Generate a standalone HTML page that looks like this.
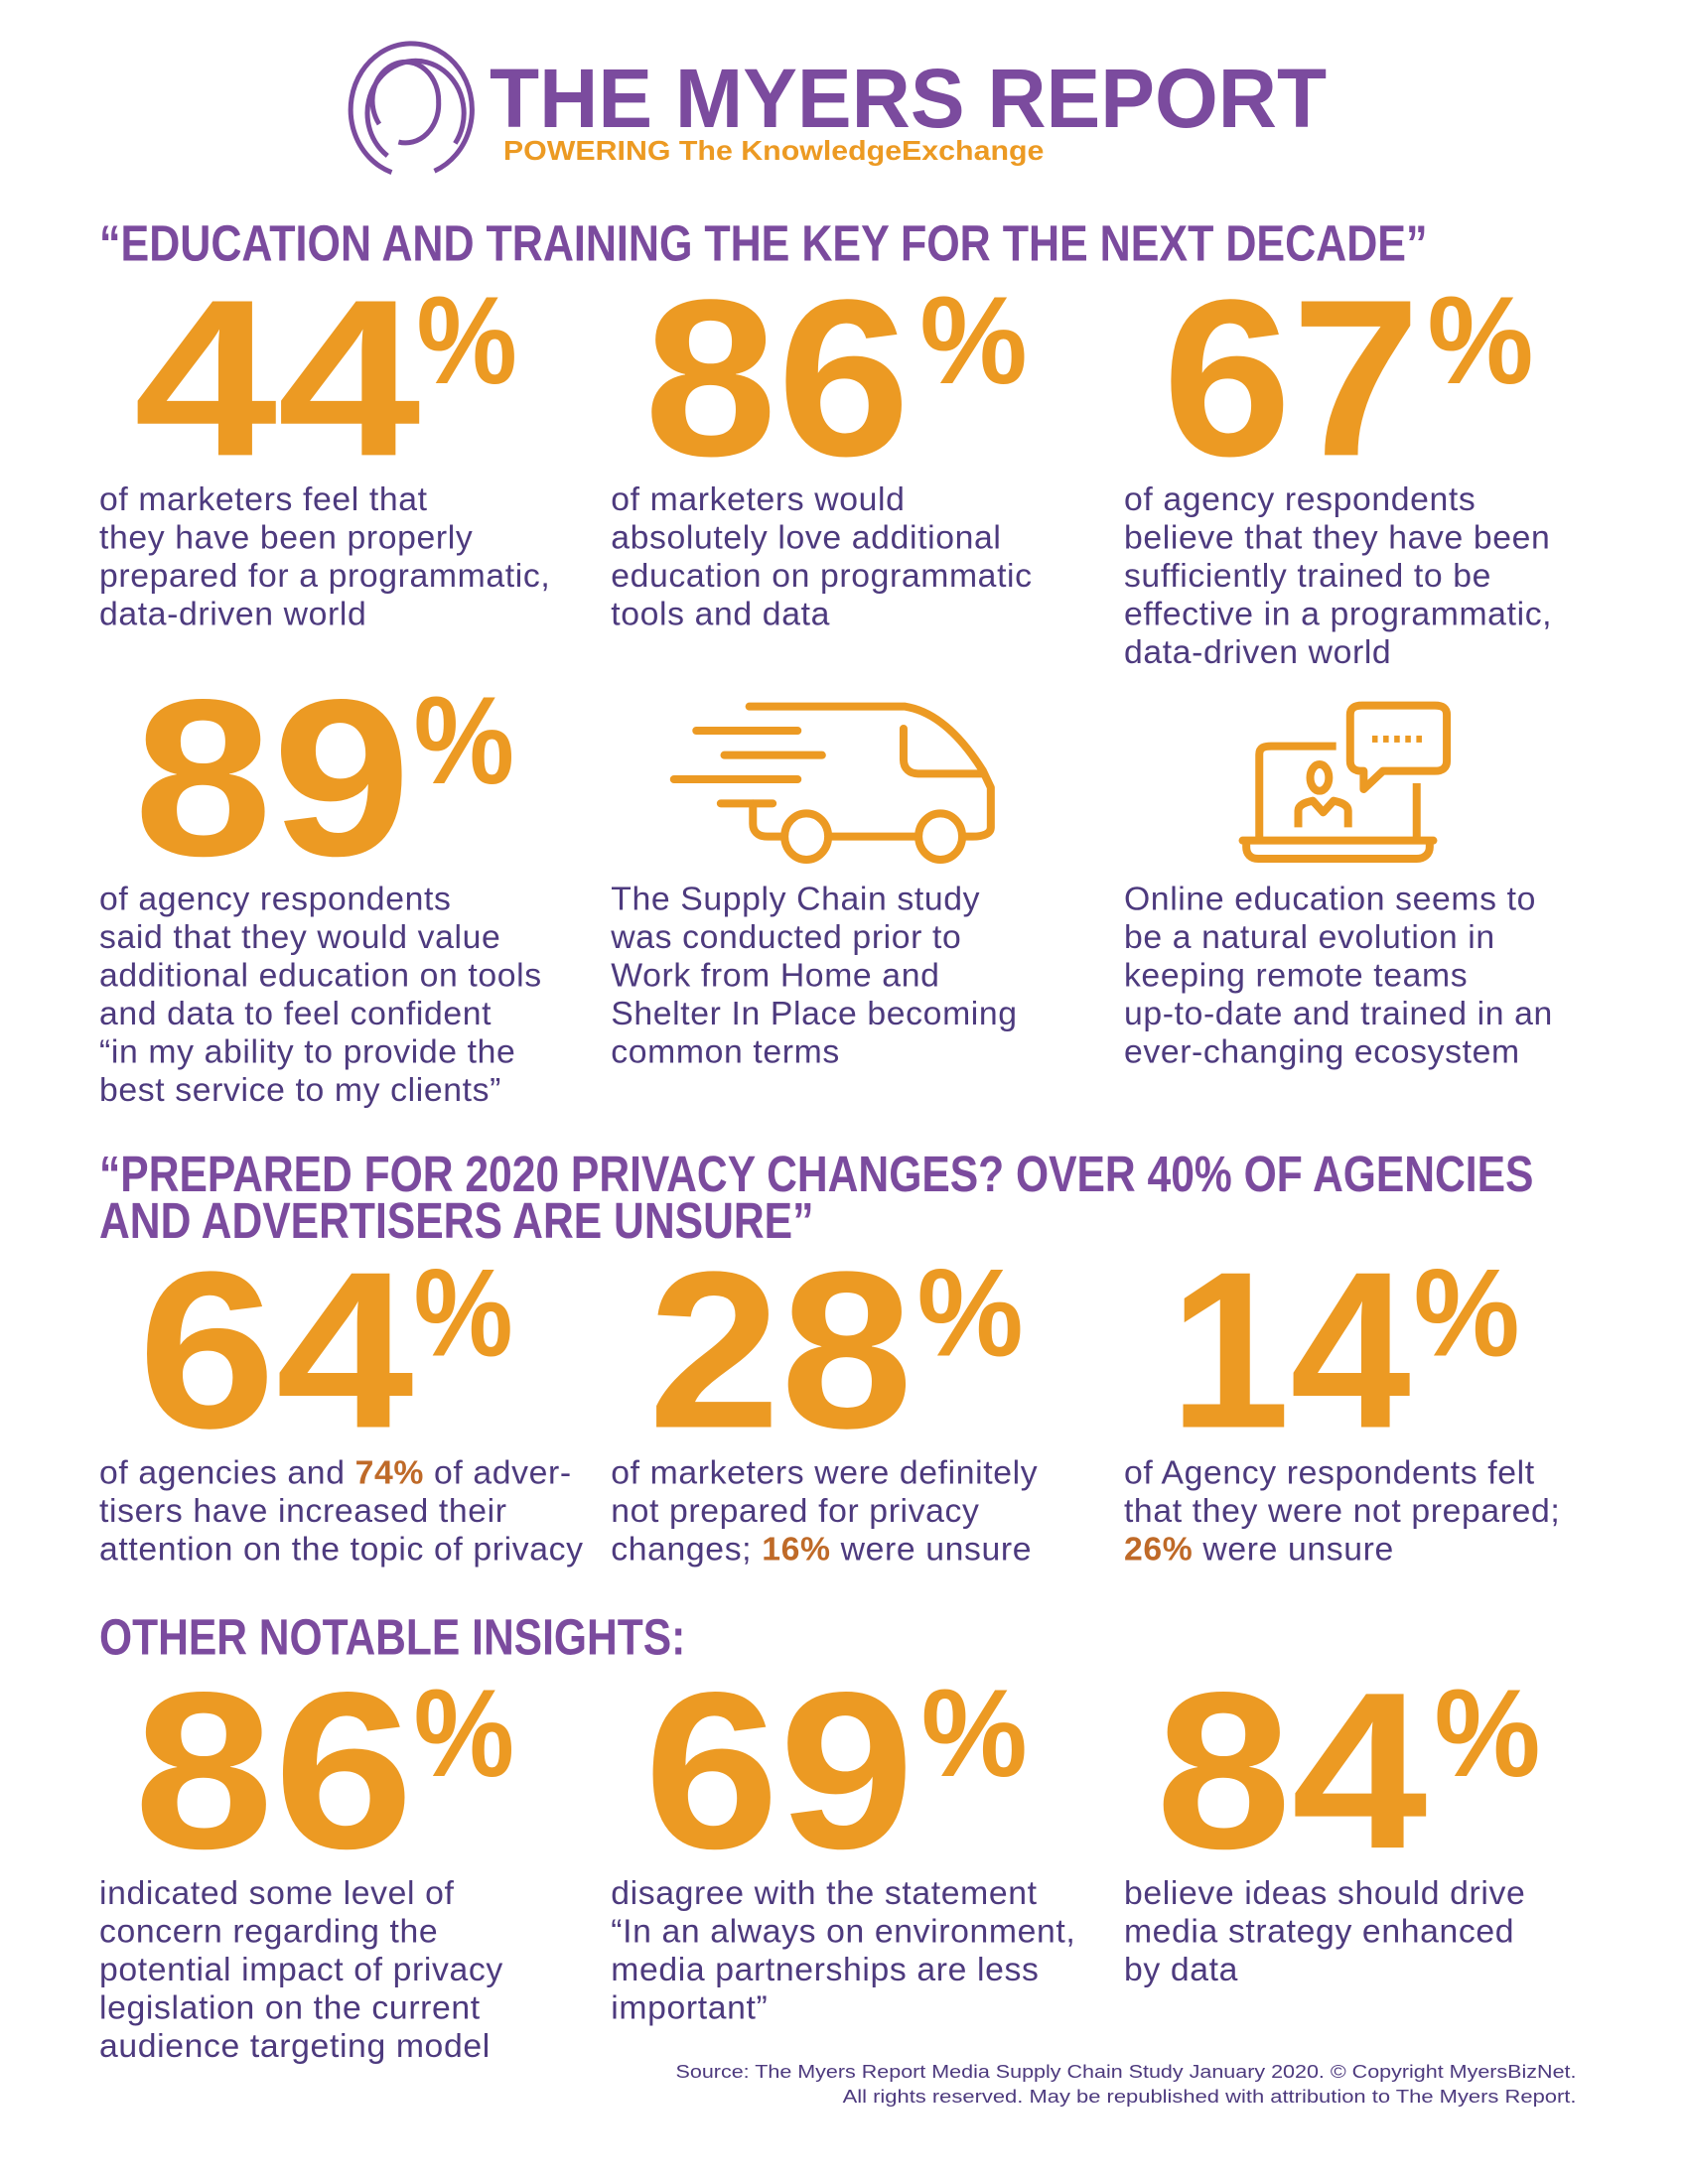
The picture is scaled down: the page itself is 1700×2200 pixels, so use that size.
<!DOCTYPE html>
<html><head><meta charset="utf-8"><style>
html,body{margin:0;padding:0;background:#fff;}
svg{display:block;}
.b{font-family:"Liberation Sans",sans-serif;font-size:24.3px;letter-spacing:0.45px;fill:#4D3A7E;}
.n{font-family:"Liberation Sans",sans-serif;font-weight:bold;fill:#EC9A23;}
.h{font-family:"Liberation Sans",sans-serif;font-weight:900;fill:#7B4B9E;font-size:37px;}
.hl{font-weight:bold;fill:#BF6A28;}
</style></head><body>
<svg width="1700" height="2200" viewBox="0 0 1224 1584" xmlns="http://www.w3.org/2000/svg">
<rect width="1224" height="1584" fill="#fff"/>
<g fill="none" stroke="#7B4B9E" stroke-width="3.6" stroke-linecap="butt">
<path d="M284,125 A44,48 0 1 1 315,124"/>
<path d="M281,113 A35,38 0 1 1 330,104"/>
<path d="M289,103 A24,28 0 0 0 318,74 A24,28 0 1 0 275,90"/>
</g>
<text x="355" y="92" font-family="Liberation Sans,sans-serif" font-weight="bold" font-size="61" fill="#7B4B9E" textLength="607" lengthAdjust="spacingAndGlyphs">THE MYERS REPORT</text>
<text x="365" y="116" font-family="Liberation Sans,sans-serif" font-weight="bold" font-size="20" fill="#EC9A23" textLength="392" lengthAdjust="spacingAndGlyphs">POWERING The KnowledgeExchange</text>
<text class="h" x="72" y="189" textLength="963" lengthAdjust="spacingAndGlyphs">“EDUCATION AND TRAINING THE KEY FOR THE NEXT DECADE”</text>

<text class="n" x="97" y="330" font-size="162" textLength="208" lengthAdjust="spacingAndGlyphs">44</text>
<text class="n" x="302" y="278" font-size="90" textLength="73" lengthAdjust="spacingAndGlyphs">%</text>
<text class="n" x="467" y="330" font-size="162" textLength="193" lengthAdjust="spacingAndGlyphs">86</text>
<text class="n" x="667" y="278" font-size="90" textLength="78" lengthAdjust="spacingAndGlyphs">%</text>
<text class="n" x="843" y="330" font-size="162" textLength="187" lengthAdjust="spacingAndGlyphs">67</text>
<text class="n" x="1035" y="278" font-size="90" textLength="77" lengthAdjust="spacingAndGlyphs">%</text>

<text class="b" y="370"><tspan x="72">of marketers feel that</tspan><tspan x="72" dy="27.7">they have been properly</tspan><tspan x="72" dy="27.7">prepared for a programmatic,</tspan><tspan x="72" dy="27.7">data-driven world</tspan></text>
<text class="b" y="370"><tspan x="443">of marketers would</tspan><tspan x="443" dy="27.7">absolutely love additional</tspan><tspan x="443" dy="27.7">education on programmatic</tspan><tspan x="443" dy="27.7">tools  and data</tspan></text>
<text class="b" y="370"><tspan x="815">of agency respondents</tspan><tspan x="815" dy="27.7">believe that they have been</tspan><tspan x="815" dy="27.7">sufficiently trained to be</tspan><tspan x="815" dy="27.7">effective in a programmatic,</tspan><tspan x="815" dy="27.7">data-driven world</tspan></text>

<text class="n" x="97" y="620" font-size="162" textLength="201" lengthAdjust="spacingAndGlyphs">89</text>
<text class="n" x="300" y="568" font-size="90" textLength="73" lengthAdjust="spacingAndGlyphs">%</text>

<g transform="translate(468,489.6) scale(0.3766,0.24)" fill="none" stroke="#EC9A23" stroke-width="8" stroke-linecap="round" stroke-linejoin="round">
<path vector-effect="non-scaling-stroke" d="M200,95 H500 C560,110 610,190 650,290 L665,340 V460 C665,480 650,488 630,488 H612"/>
<path vector-effect="non-scaling-stroke" d="M355,488 H522"/>
<path vector-effect="non-scaling-stroke" d="M262,488 H235 C215,488 207,470 207,450 V388"/>
<path vector-effect="non-scaling-stroke" d="M145,388 H245"/>
<path vector-effect="non-scaling-stroke" d="M497,162 V255 C497,285 510,298 525,298 H650"/>
<ellipse vector-effect="non-scaling-stroke" cx="310" cy="488" rx="42" ry="70"/>
<ellipse vector-effect="non-scaling-stroke" cx="568" cy="488" rx="42" ry="70"/>
<path vector-effect="non-scaling-stroke" d="M98,168 H293 M152,242 H340 M55,315 H293"/>
<path vector-effect="non-scaling-stroke" stroke-linecap="butt" d="M1182,495 V240 C1182,220 1190,215 1205,215 H1330"/>
<path vector-effect="non-scaling-stroke" stroke-linecap="butt" d="M1485,327 V495"/>
<path vector-effect="non-scaling-stroke" d="M1150,500 H1517 M1157,500 V520 C1157,540 1165,555 1180,555 H1485 C1500,555 1510,540 1510,520 V500"/>
<ellipse vector-effect="non-scaling-stroke" cx="1298" cy="310" rx="18" ry="40"/>
<path vector-effect="non-scaling-stroke" stroke-linecap="butt" d="M1257,460 V410 C1257,392 1270,385 1285,380 L1305,415 L1325,380 C1340,385 1353,392 1353,410 V460"/>
<path vector-effect="non-scaling-stroke" d="M1357,120 C1357,100 1365,92 1380,92 H1520 C1535,92 1543,100 1543,120 V260 C1543,280 1535,290 1520,290 H1420 L1383,345 V290 H1380 C1365,290 1357,280 1357,260 Z"/>
</g>
<g fill="#EC9A23"><rect x="995" y="533.5" width="4" height="5"/><rect x="1003" y="533.5" width="4" height="5"/><rect x="1011" y="533.5" width="4" height="5"/><rect x="1019" y="533.5" width="4" height="5"/><rect x="1027" y="533.5" width="4" height="5"/></g>

<text class="b" y="660"><tspan x="72">of agency respondents</tspan><tspan x="72" dy="27.7">said that they would value</tspan><tspan x="72" dy="27.7">additional education on tools</tspan><tspan x="72" dy="27.7">and data to feel confident</tspan><tspan x="72" dy="27.7">“in my ability to provide the</tspan><tspan x="72" dy="27.7">best service to my clients”</tspan></text>
<text class="b" y="660"><tspan x="443">The Supply Chain study</tspan><tspan x="443" dy="27.7">was conducted prior to</tspan><tspan x="443" dy="27.7">Work from Home and</tspan><tspan x="443" dy="27.7">Shelter In Place becoming</tspan><tspan x="443" dy="27.7">common terms</tspan></text>
<text class="b" y="660"><tspan x="815">Online education seems to</tspan><tspan x="815" dy="27.7">be a natural evolution in</tspan><tspan x="815" dy="27.7">keeping remote teams</tspan><tspan x="815" dy="27.7">up-to-date and trained in an</tspan><tspan x="815" dy="27.7">ever-changing ecosystem</tspan></text>

<text class="h" x="72" y="864" textLength="1040" lengthAdjust="spacingAndGlyphs">“PREPARED FOR 2020 PRIVACY CHANGES? OVER 40% OF AGENCIES</text>
<text class="h" x="72" y="898" textLength="518" lengthAdjust="spacingAndGlyphs">AND ADVERTISERS ARE UNSURE”</text>

<text class="n" x="100" y="1035" font-size="162" textLength="200" lengthAdjust="spacingAndGlyphs">64</text>
<text class="n" x="300" y="983" font-size="90" textLength="72" lengthAdjust="spacingAndGlyphs">%</text>
<text class="n" x="470" y="1035" font-size="162" textLength="192" lengthAdjust="spacingAndGlyphs">28</text>
<text class="n" x="665" y="983" font-size="90" textLength="77" lengthAdjust="spacingAndGlyphs">%</text>
<text class="n" x="848" y="1035" font-size="162" textLength="175" lengthAdjust="spacingAndGlyphs">14</text>
<text class="n" x="1025" y="983" font-size="90" textLength="77" lengthAdjust="spacingAndGlyphs">%</text>

<text class="b" y="1076"><tspan x="72">of agencies and <tspan class="hl">74%</tspan> of adver-</tspan><tspan x="72" dy="27.7">tisers have increased their</tspan><tspan x="72" dy="27.7">attention on the topic of privacy</tspan></text>
<text class="b" y="1076"><tspan x="443">of marketers were definitely</tspan><tspan x="443" dy="27.7">not prepared for privacy</tspan><tspan x="443" dy="27.7">changes; <tspan class="hl">16%</tspan> were unsure</tspan></text>
<text class="b" y="1076"><tspan x="815">of Agency respondents felt</tspan><tspan x="815" dy="27.7">that they were not prepared;</tspan><tspan x="815" dy="27.7"><tspan class="hl">26%</tspan> were unsure</tspan></text>

<text class="h" x="72" y="1200" textLength="425" lengthAdjust="spacingAndGlyphs">OTHER NOTABLE INSIGHTS:</text>

<text class="n" x="97" y="1340" font-size="162" textLength="203" lengthAdjust="spacingAndGlyphs">86</text>
<text class="n" x="300" y="1288" font-size="90" textLength="73" lengthAdjust="spacingAndGlyphs">%</text>
<text class="n" x="467" y="1340" font-size="162" textLength="196" lengthAdjust="spacingAndGlyphs">69</text>
<text class="n" x="668" y="1288" font-size="90" textLength="77" lengthAdjust="spacingAndGlyphs">%</text>
<text class="n" x="838" y="1340" font-size="162" textLength="197" lengthAdjust="spacingAndGlyphs">84</text>
<text class="n" x="1040" y="1288" font-size="90" textLength="77" lengthAdjust="spacingAndGlyphs">%</text>

<text class="b" y="1381"><tspan x="72">indicated some level of</tspan><tspan x="72" dy="27.7">concern regarding the</tspan><tspan x="72" dy="27.7">potential impact of privacy</tspan><tspan x="72" dy="27.7">legislation on the current</tspan><tspan x="72" dy="27.7">audience targeting model</tspan></text>
<text class="b" y="1381"><tspan x="443">disagree with the statement</tspan><tspan x="443" dy="27.7">“In an always on environment,</tspan><tspan x="443" dy="27.7">media partnerships are less</tspan><tspan x="443" dy="27.7">important”</tspan></text>
<text class="b" y="1381"><tspan x="815">believe ideas should drive</tspan><tspan x="815" dy="27.7">media strategy enhanced</tspan><tspan x="815" dy="27.7">by data</tspan></text>

<text x="1143" y="1507" text-anchor="end" font-family="Liberation Sans,sans-serif" font-size="13.5" fill="#4D3A7E" textLength="653" lengthAdjust="spacingAndGlyphs">Source: The Myers Report Media Supply Chain Study January 2020. © Copyright MyersBizNet.</text>
<text x="1143" y="1525" text-anchor="end" font-family="Liberation Sans,sans-serif" font-size="13.5" fill="#4D3A7E" textLength="532" lengthAdjust="spacingAndGlyphs">All rights reserved. May be republished with attribution to The Myers Report.</text>
</svg>
</body></html>
